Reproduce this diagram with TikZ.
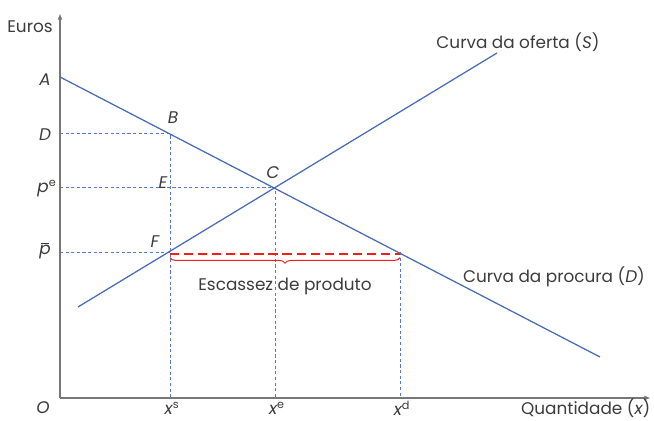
\documentclass[tikz,border=0pt]{standalone}
\usepackage{fontspec}
\setmainfont{Poppins}
\usepackage{xcolor}
\usepackage{tikz}
\usetikzlibrary{arrows.meta, decorations.pathreplacing}
\definecolor{curveblue}{RGB}{72, 108, 182}
\definecolor{guideblue}{RGB}{90, 120, 200}
\definecolor{axisgray}{RGB}{120, 120, 120}
\definecolor{shortred}{RGB}{240, 30, 30}
\definecolor{labelgray}{RGB}{60, 60, 60}

\newcommand{\pbar}{\makebox[0pt][l]{\hspace{0.12em}\raisebox{1.15ex}{\rule{0.48em}{0.55pt}}}p}

\tikzset{
    axis/.style={axisgray, line width=0.8pt, -{Triangle[length=4pt, width=3pt]}},
    curve/.style={curveblue, line width=0.9pt},
    guide/.style={guideblue, line width=0.5pt, dash pattern=on 2.2pt off 1.8pt},
    lbl/.style={text=labelgray, font=\fontsize{12}{14}\selectfont, inner sep=1pt},
    pt/.style={lbl, font=\fontsize{12}{14}\selectfont\itshape}
}

\begin{document}
\begin{tikzpicture}[x=0.025cm, y=0.025cm]
    \useasboundingbox (-60,-23) rectangle (594,398);

    % Points on the curves
    \coordinate (O) at (0,0);
    \coordinate (A) at (0,321);
    \coordinate (B) at (110,265);
    \coordinate (C) at (215,211);
    \coordinate (E) at (110,211);
    \coordinate (F) at (110,146);
    \coordinate (G) at (340,146);
    \coordinate (dEnd) at (540,41);
    \coordinate (sStart) at (18,91);
    \coordinate (sEnd) at (437,345);
    \coordinate (xs) at (110,0);
    \coordinate (xe) at (215,0);
    \coordinate (xd) at (340,0);
    \coordinate (yD) at (0,265);
    \coordinate (ype) at (0,211);
    \coordinate (ypb) at (0,146);

    % Axes
    \draw[axis] (O) -- (590,0);
    \draw[axis] (O) -- (0,384);

    % Guide lines
    \draw[guide] (yD) -- (B) -- (xs);
    \draw[guide] (ype) -- (C) -- (xe);
    \draw[guide] (ypb) -- (F);
    \draw[guide] (G) -- (xd);

    % Demand and supply
    \draw[curve] (A) -- (dEnd);
    \draw[curve] (sStart) -- (sEnd);

    % Shortage
    \draw[shortred, line width=1.1pt, dash pattern=on 6.5pt off 3.5pt] ([yshift=-1.5]F) -- ([yshift=-1.5]G);
    \draw[shortred, line width=0.7pt, decorate, decoration={brace, mirror, amplitude=4pt}]
        ([yshift=-4]F) -- ([yshift=-4]G) node[midway, below=13pt, lbl] (short) {Escassez de produto};

    % Labels
    \node[lbl] (euros) at (-30,371) {Euros};
    \node[pt] (lA) at (-15,318) {A};
    \node[pt] (lD) at (-15,263) {D};
    \node[pt] (lpe) at (-13,209) {p\textsuperscript{\upshape e}};
    \node[pt] (lpb) at (-15,147) {\pbar};
    \node[pt] (lB) at (113,280) {B};
    \node[pt] (lE) at (103,215) {E};
    \node[pt] (lC) at (213,225) {C};
    \node[pt] (lF) at (95,156) {F};
    \node[pt] (lO) at (-17,-10) {O};
    \node[pt] (lxs) at (112,-10) {x\textsuperscript{\upshape s}};
    \node[pt] (lxe) at (217,-10) {x\textsuperscript{\upshape e}};
    \node[pt] (lxd) at (342,-10) {x\textsuperscript{\upshape d}};
    \node[lbl, anchor=east] (qty) at (592,-10) {Quantidade ({\itshape x})};
    \node[lbl] (supply) at (458,356) {Curva da oferta ({\itshape S})};
    \node[lbl] (demand) at (494,121) {Curva da procura ({\itshape D})};
\end{tikzpicture}
\end{document}
